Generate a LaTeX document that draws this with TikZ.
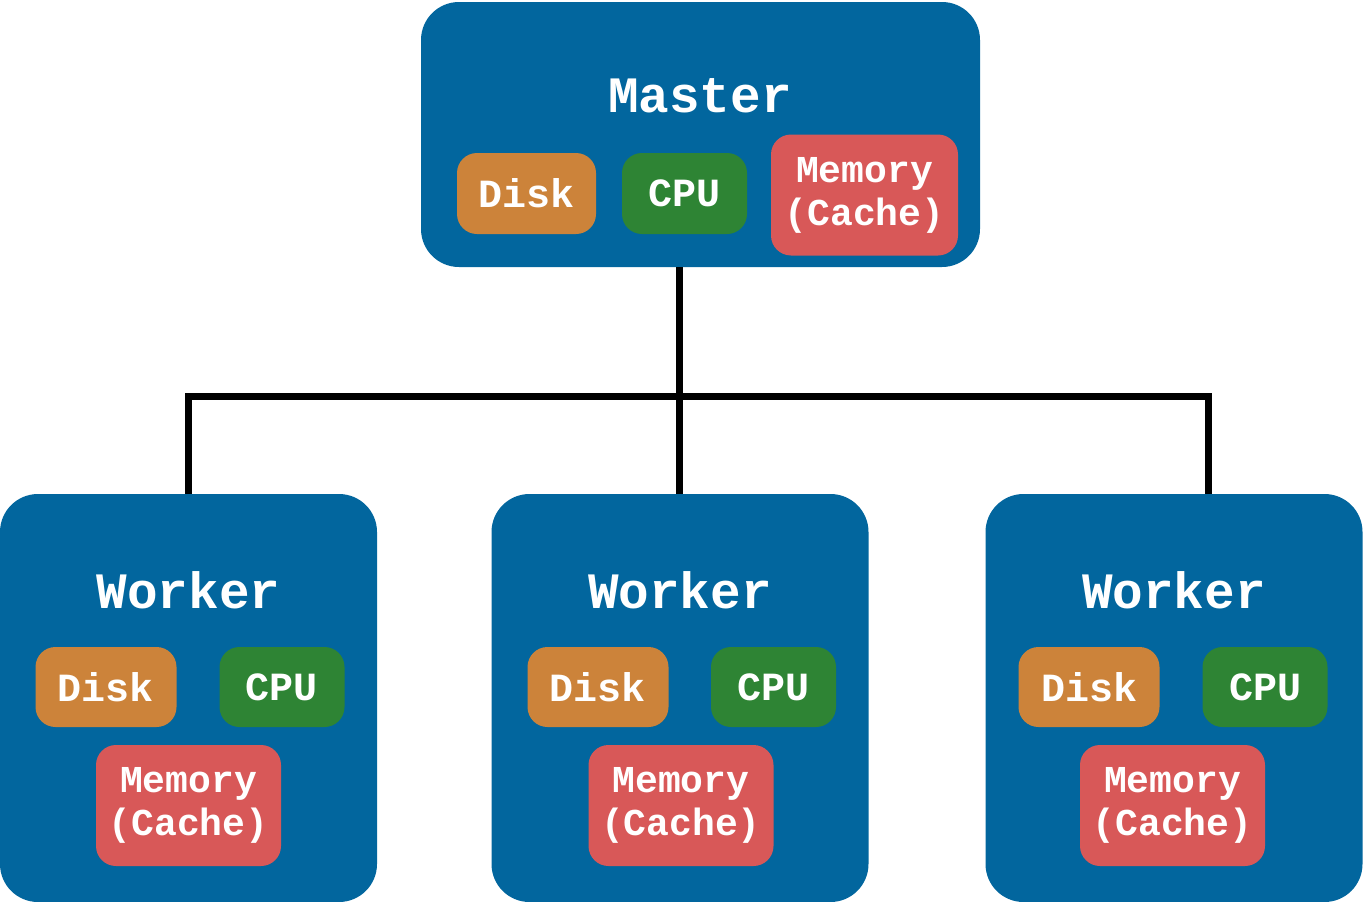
\documentclass[tikz,border=0pt]{standalone}
\usepackage{fontspec}
\setmonofont{Liberation Mono}
\definecolor{boxblue}{RGB}{2,102,158}
\definecolor{diskc}{RGB}{204,131,58}
\definecolor{cpuc}{RGB}{46,132,52}
\definecolor{memc}{RGB}{216,88,88}
\tikzset{
  bigbox/.style={fill=boxblue, rounded corners=38pt, inner sep=0pt},
  title/.style={text=white, font=\ttfamily\bfseries\fontsize{51}{56}\selectfont, inner sep=0pt},
  part/.style={text=white, rounded corners=20pt, inner sep=0pt, font=\ttfamily\bfseries\fontsize{40}{44}\selectfont},
  diskbox/.style={part, fill=diskc},
  cpubox/.style={part, fill=cpuc},
  membox/.style={part, fill=memc, align=center, font=\ttfamily\bfseries\fontsize{38}{43}\selectfont},
  link/.style={draw=black, line width=7pt}
}
\begin{document}
\begin{tikzpicture}[x=1pt,y=-1pt]
\useasboundingbox (0,0) rectangle (1363,902);
% Master
\node[bigbox, minimum width=559pt, minimum height=265pt] (master) at (700.5,134.5) {};
\node[title] (mt) at (700,96) {Master};
\node[diskbox, minimum width=139pt, minimum height=81pt] (md) at (526.5,193.5) {Disk};
\node[cpubox, minimum width=125pt, minimum height=81pt] (mc) at (684.5,193.5) {CPU};
\node[membox, minimum width=187pt, minimum height=121pt] (mm) at (864.5,195) {Memory\\(Cache)};
% Workers
\foreach \n/\cx/\dx/\px/\mx in {1/188.5/106/282/188.5, 2/680/598/773.5/681, 3/1174/1089/1265/1172.5}{
  \node[bigbox, minimum width=377pt, minimum height=408pt] (w\n) at (\cx,698) {};
  \node[title] (wt\n) at (\cx,590) {Worker};
  \node[diskbox, minimum width=141pt, minimum height=80pt] (wd\n) at (\dx,687) {Disk};
  \node[cpubox, minimum width=125pt, minimum height=80pt] (wc\n) at (\px,687) {CPU};
  \node[membox, minimum width=185pt, minimum height=121pt] (wm\n) at (\mx,805.5) {Memory\\(Cache)};
}
% Connectors
\coordinate (j) at (679,396);
\coordinate (bl) at (188,396);
\coordinate (br) at (1208,396);
\draw[link] (master.south -| j) -- (j);
\draw[link] (bl |- w1.north) -- (bl) -- (br) -- (br |- w3.north);
\draw[link] (j) -- (j |- w2.north);
\end{tikzpicture}
\end{document}
